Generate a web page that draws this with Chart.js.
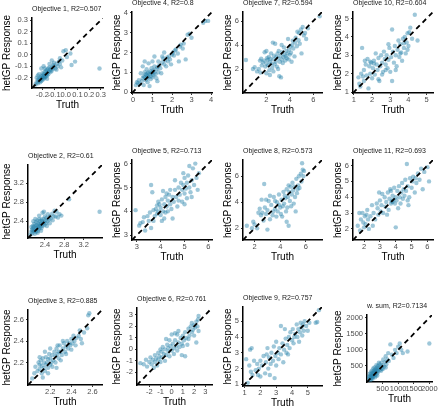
<!DOCTYPE html>
<html>
<head>
<meta charset="utf-8">
<script src="https://cdn.jsdelivr.net/npm/chart.js@4.4.1/dist/chart.umd.min.js"></script>
<style>
  html, body { margin: 0; padding: 0; background: #fff; }
  body { position: relative; width: 440px; height: 411px; overflow: hidden; }
  canvas { position: absolute; }
</style>
</head>
<body>
<script>
// values: [truth, hetGP response]
const obj1Points = [[-0.25,-0.24],[-0.24,-0.22],[-0.24,-0.25],[-0.23,-0.21],[-0.23,-0.23],[-0.22,-0.20],[-0.22,-0.24],[-0.22,-0.22],[-0.21,-0.19],[-0.21,-0.21],[-0.21,-0.23],[-0.20,-0.18],[-0.20,-0.20],[-0.20,-0.22],[-0.20,-0.16],[-0.19,-0.19],[-0.19,-0.21],[-0.19,-0.17],[-0.18,-0.15],[-0.18,-0.19],[-0.18,-0.20],[-0.17,-0.17],[-0.17,-0.14],[-0.17,-0.19],[-0.16,-0.16],[-0.16,-0.13],[-0.16,-0.18],[-0.15,-0.15],[-0.15,-0.12],[-0.15,-0.17],[-0.14,-0.14],[-0.14,-0.11],[-0.13,-0.13],[-0.13,-0.15],[-0.12,-0.11],[-0.12,-0.14],[-0.11,-0.09],[-0.11,-0.12],[-0.10,-0.10],[-0.10,-0.07],[-0.09,-0.12],[-0.08,-0.08],[-0.07,-0.10],[-0.06,-0.06],[-0.05,-0.08],[-0.05,-0.03],[-0.04,-0.11],[-0.03,-0.05],[-0.02,0.03],[0.00,0.04],[0.01,-0.02],[0.04,0.01],[0.05,-0.09],[0.08,-0.06],[0.29,-0.12],[-0.21,-0.12],[-0.19,-0.10],[-0.23,-0.17],[-0.18,-0.12],[-0.14,-0.08],[-0.12,-0.05],[-0.08,-0.13],[-0.16,-0.21],[-0.25,-0.20],[-0.26,-0.26],[-0.24,-0.18]];
const obj4Points = [[0.15,0.35],[0.2,0.5],[0.25,0.45],[0.3,0.6],[0.35,0.4],[0.4,0.95],[0.45,0.55],[0.5,0.7],[0.5,1.3],[0.55,0.8],[0.55,0.35],[0.6,0.75],[0.6,1.0],[0.65,0.9],[0.65,0.6],[0.7,0.85],[0.7,1.15],[0.7,0.7],[0.75,0.95],[0.75,0.8],[0.75,0.5],[0.8,1.0],[0.8,0.75],[0.8,1.45],[0.85,0.9],[0.85,0.3],[0.9,1.05],[0.9,0.8],[0.9,0.65],[0.95,1.2],[0.95,0.95],[1.0,1.0],[1.0,0.75],[1.0,1.55],[1.05,1.1],[1.05,0.85],[1.1,1.0],[1.1,1.3],[1.15,0.9],[1.2,1.15],[1.2,0.7],[1.25,1.25],[1.3,1.0],[1.3,1.55],[1.35,1.35],[1.4,1.2],[1.45,0.95],[1.5,1.5],[1.5,1.8],[1.55,1.7],[1.6,1.4],[1.65,1.6],[1.7,1.3],[1.75,1.75],[1.8,1.55],[1.85,1.8],[1.9,1.65],[1.95,1.4],[2.0,1.9],[2.05,2.0],[2.1,1.85],[2.15,2.1],[2.2,2.15],[2.3,1.95],[2.35,1.55],[2.4,2.3],[2.45,2.4],[2.55,2.2],[2.6,2.45],[2.7,1.65],[2.8,2.9],[2.9,2.95],[3.0,2.75],[3.6,3.5],[3.7,3.6],[3.85,3.6],[1.25,0.55],[0.6,1.55],[1.6,2.0],[1.1,1.8]];
const obj7Points = [[0.25,2.75],[0.85,2.0],[1.0,2.15],[1.2,1.8],[1.35,2.0],[1.45,2.7],[1.55,2.85],[1.6,2.3],[1.7,2.55],[1.8,2.7],[1.85,3.4],[1.9,2.2],[2.0,2.45],[2.0,1.65],[2.05,2.9],[2.1,2.75],[2.15,2.3],[2.2,3.0],[2.25,1.9],[2.3,1.5],[2.3,2.6],[2.35,2.85],[2.4,3.3],[2.45,2.45],[2.5,2.1],[2.55,4.2],[2.6,2.8],[2.6,1.8],[2.65,3.1],[2.7,2.4],[2.75,4.1],[2.8,2.6],[2.85,3.0],[2.9,2.2],[2.95,3.3],[3.0,2.9],[3.0,2.0],[3.05,3.5],[3.1,1.4],[3.15,2.6],[3.2,3.1],[3.25,1.3],[3.3,2.8],[3.35,3.4],[3.4,2.5],[3.45,3.0],[3.5,3.8],[3.55,3.2],[3.6,2.7],[3.65,3.05],[3.7,3.5],[3.75,2.9],[3.8,3.3],[3.85,4.5],[3.9,2.8],[3.95,3.6],[4.0,3.2],[4.05,3.9],[4.1,3.35],[4.15,2.6],[4.2,4.0],[4.25,4.35],[4.3,3.7],[4.4,3.05],[4.45,4.2],[4.5,4.6],[4.6,3.9],[4.65,5.1],[4.75,4.4],[4.8,5.0],[4.85,4.1],[4.95,5.3],[5.0,3.3],[5.1,5.5],[5.2,4.8],[5.3,5.0],[5.4,4.5],[5.55,5.4],[6.55,6.4],[3.3,4.0],[2.0,3.5],[1.5,1.7]];
const obj10Points = [[1.25,1.8],[1.3,1.45],[1.35,1.3],[1.4,2.0],[1.45,3.4],[1.5,1.85],[1.55,2.2],[1.6,2.7],[1.65,2.5],[1.7,1.9],[1.75,2.8],[1.8,1.2],[1.85,2.4],[1.9,2.0],[1.95,2.6],[2.0,1.75],[2.05,2.3],[2.1,2.55],[2.15,1.95],[2.2,3.1],[2.25,2.5],[2.3,2.2],[2.35,2.85],[2.4,1.6],[2.45,2.4],[2.5,3.0],[2.55,2.6],[2.6,2.1],[2.65,3.2],[2.7,2.8],[2.75,2.5],[2.8,3.0],[2.85,2.3],[2.9,2.75],[2.95,3.4],[3.0,2.1],[3.05,2.9],[3.1,1.6],[3.1,4.4],[3.15,3.2],[3.2,2.6],[3.25,3.5],[3.3,3.0],[3.35,2.4],[3.4,3.3],[3.45,3.8],[3.5,2.9],[3.55,3.6],[3.6,3.15],[3.65,2.7],[3.7,3.9],[3.75,3.4],[3.8,4.0],[3.85,3.1],[3.9,3.7],[3.95,4.2],[4.0,3.5],[4.05,4.25],[4.1,4.5],[4.2,3.9],[4.35,5.2],[4.5,3.8],[1.9,2.65],[2.1,2.7],[2.35,1.7],[2.55,1.95],[2.9,3.6],[3.3,2.2],[3.55,3.1],[1.55,1.6],[2.75,2.2],[3.95,3.3],[3.75,3.65]];
const obj2Points = [[2.10,2.12],[2.12,2.18],[2.13,2.22],[2.14,2.15],[2.15,2.25],[2.15,2.3],[2.16,2.19],[2.17,2.28],[2.18,2.22],[2.18,2.35],[2.19,2.14],[2.2,2.2],[2.2,2.3],[2.21,2.26],[2.22,2.38],[2.22,2.18],[2.23,2.32],[2.24,2.24],[2.24,2.42],[2.25,2.28],[2.26,2.2],[2.26,2.36],[2.27,2.3],[2.28,2.25],[2.28,2.45],[2.29,2.34],[2.3,2.4],[2.3,2.28],[2.31,2.32],[2.32,2.36],[2.33,2.26],[2.33,2.44],[2.34,2.4],[2.35,2.3],[2.36,2.35],[2.37,2.45],[2.38,2.38],[2.39,2.32],[2.4,2.5],[2.41,2.42],[2.42,2.36],[2.43,2.47],[2.45,2.4],[2.46,2.55],[2.48,2.44],[2.5,2.5],[2.52,2.46],[2.55,2.56],[2.58,2.5],[2.6,2.62],[2.62,2.5],[2.64,2.6],[2.67,2.48],[2.7,2.55],[2.74,2.52],[2.9,2.86],[3.53,2.6],[2.16,2.4],[2.2,2.45],[2.28,2.52],[2.35,2.58],[2.12,2.28],[2.25,2.16],[2.32,2.2],[2.44,2.3],[2.5,2.36],[2.38,2.6],[2.56,2.42]];
const obj5Points = [[2.95,4.05],[3.1,3.4],[3.15,3.5],[3.25,3.55],[3.35,3.2],[3.45,3.8],[3.5,3.6],[3.55,3.95],[3.6,3.3],[3.6,5.1],[3.65,4.8],[3.7,4.05],[3.75,3.8],[3.8,4.1],[3.85,3.9],[3.9,4.0],[3.95,4.3],[4.0,3.85],[4.0,4.15],[4.05,4.5],[4.1,4.0],[4.1,4.85],[4.15,4.3],[4.2,4.6],[4.2,3.95],[4.25,4.2],[4.3,4.45],[4.3,4.0],[4.35,4.7],[4.4,4.3],[4.45,4.1],[4.5,4.6],[4.5,3.7],[4.55,4.4],[4.6,4.9],[4.65,4.6],[4.7,4.2],[4.75,5.0],[4.8,4.7],[4.85,5.2],[4.9,4.9],[4.9,4.4],[4.95,5.1],[5.0,4.75],[5.0,5.4],[5.05,4.95],[5.1,5.2],[5.1,4.55],[5.15,5.5],[5.2,5.0],[5.25,4.8],[5.3,5.3],[5.3,4.6],[5.35,5.8],[5.4,5.1],[5.45,6.0],[5.5,5.4],[5.55,4.9],[5.6,5.6],[5.2,5.9],[4.95,5.6],[4.6,5.3],[3.9,4.4],[4.05,3.6],[3.7,3.6],[3.3,3.75],[4.4,4.9],[4.75,4.45],[5.0,4.3],[4.25,4.75],[3.85,4.25],[4.15,3.7]];
const obj8Points = [[1.4,2.2],[1.8,2.0],[1.9,2.5],[2.0,2.3],[2.2,2.0],[2.3,3.2],[2.4,3.5],[2.5,3.0],[2.6,3.2],[2.7,2.6],[2.75,5.4],[2.8,3.6],[2.9,3.1],[3.0,1.9],[3.0,3.4],[3.1,4.1],[3.2,2.7],[3.3,3.8],[3.4,3.0],[3.5,4.4],[3.6,3.5],[3.7,2.9],[3.75,4.0],[3.8,3.3],[3.9,4.6],[4.0,3.6],[4.05,3.1],[4.1,4.2],[4.2,3.7],[4.25,4.8],[4.3,3.9],[4.4,4.3],[4.5,2.5],[4.5,5.0],[4.55,3.6],[4.6,4.4],[4.65,2.2],[4.7,4.8],[4.75,4.1],[4.8,5.2],[4.85,3.7],[4.9,4.6],[4.95,5.5],[5.0,4.9],[5.05,3.9],[5.1,5.2],[5.15,4.4],[5.2,3.3],[5.25,5.8],[5.3,4.7],[5.4,5.3],[5.45,6.0],[5.5,5.1],[5.6,6.2],[5.65,5.6],[5.7,7.0],[5.75,6.5],[5.8,6.0],[5.85,6.4],[3.2,4.5],[3.6,4.1],[4.35,4.5],[2.9,4.2],[3.45,3.3],[4.15,2.9],[4.65,5.3],[5.35,5.0],[3.9,3.8],[2.55,4.2],[4.45,3.3]];
const obj11Points = [[1.6,2.2],[1.7,3.0],[1.75,1.9],[1.8,2.6],[1.9,3.0],[1.95,2.4],[2.0,2.1],[2.05,2.8],[2.1,2.3],[2.2,3.2],[2.25,2.6],[2.3,2.0],[2.4,2.8],[2.5,3.5],[2.55,2.2],[2.6,3.0],[2.7,2.6],[2.8,3.6],[2.85,3.3],[2.9,2.9],[3.0,3.8],[3.05,3.1],[3.1,3.5],[3.15,4.2],[3.2,3.0],[3.3,4.0],[3.35,3.4],[3.4,3.7],[3.5,4.3],[3.55,3.2],[3.6,3.9],[3.65,4.5],[3.7,3.6],[3.75,3.75],[3.8,4.1],[3.8,3.7],[3.85,3.85],[3.9,4.6],[3.95,3.6],[4.0,2.1],[4.0,4.0],[4.05,3.8],[4.1,4.4],[4.15,3.3],[4.2,4.7],[4.25,4.0],[4.3,3.6],[4.35,4.3],[4.4,4.9],[4.45,3.9],[4.5,4.5],[4.55,4.1],[4.6,5.1],[4.65,4.4],[4.7,6.1],[4.75,4.7],[4.8,3.5],[4.85,4.0],[4.9,5.2],[5.0,4.6],[5.05,5.0],[5.1,5.3],[5.2,4.3],[5.3,4.9],[5.4,5.5],[5.5,5.1],[5.6,5.8],[5.7,4.5],[5.8,5.6],[6.0,5.9],[6.1,5.0],[2.15,2.9],[3.45,2.9],[2.95,4.3],[4.75,3.8],[5.25,5.2],[3.7,4.4]];
const obj3Points = [[2.03,2.05],[2.05,2.1],[2.06,2.16],[2.08,2.12],[2.09,2.2],[2.1,2.14],[2.1,2.18],[2.11,2.22],[2.12,2.1],[2.12,2.17],[2.13,2.24],[2.14,2.15],[2.14,2.2],[2.15,2.12],[2.16,2.18],[2.16,2.25],[2.17,2.2],[2.18,2.15],[2.18,2.23],[2.19,2.28],[2.2,2.18],[2.2,2.24],[2.21,2.2],[2.22,2.27],[2.22,2.16],[2.23,2.22],[2.24,2.3],[2.25,2.26],[2.25,2.2],[2.26,2.33],[2.27,2.28],[2.28,2.24],[2.28,2.3],[2.29,2.36],[2.3,2.3],[2.31,2.27],[2.32,2.33],[2.33,2.38],[2.34,2.3],[2.35,2.35],[2.36,2.4],[2.37,2.33],[2.38,2.38],[2.39,2.36],[2.4,2.42],[2.41,2.38],[2.42,2.45],[2.43,2.4],[2.44,2.36],[2.45,2.43],[2.47,2.45],[2.49,2.42],[2.5,2.38],[2.52,2.48],[2.55,2.52],[2.56,2.64],[2.57,2.66],[2.48,2.5],[2.15,2.3],[2.2,2.33],[2.1,2.25],[2.3,2.22],[2.35,2.28],[2.26,2.15],[2.4,2.32],[2.18,2.1],[2.13,2.06],[2.32,2.4],[2.27,2.36]];
const obj6Points = [[-2.5,-1.3],[-2.3,-0.9],[-2.2,-1.5],[-2.0,-1.1],[-1.9,-0.7],[-1.8,-1.3],[-1.7,-0.9],[-1.6,-1.6],[-1.5,-0.5],[-1.5,-1.1],[-1.4,-0.8],[-1.3,-1.4],[-1.2,-0.3],[-1.2,-0.9],[-1.1,-0.6],[-1.0,-1.1],[-0.9,-0.2],[-0.9,-0.7],[-0.8,0.2],[-0.7,-0.4],[-0.6,-1.0],[-0.6,0.0],[-0.5,-0.5],[-0.4,0.4],[-0.3,-0.2],[-0.3,0.1],[-0.2,-0.6],[-0.1,0.3],[0.0,-0.1],[0.0,1.3],[0.1,0.5],[0.2,0.1],[0.2,-0.4],[0.3,0.8],[0.4,0.3],[0.5,1.3],[0.5,-0.1],[0.6,0.6],[0.7,0.2],[0.8,1.0],[0.9,-0.5],[0.9,0.5],[1.0,1.2],[1.1,0.8],[1.2,-0.6],[1.2,1.5],[1.3,1.0],[1.4,0.4],[1.5,1.8],[1.6,1.2],[1.7,2.0],[1.8,1.5],[1.8,2.3],[1.9,1.7],[2.0,2.1],[2.0,1.2],[2.1,1.9],[2.2,2.4],[2.2,0.6],[2.3,2.0],[2.35,2.6],[2.4,1.6],[2.4,2.9],[-0.5,0.9],[0.3,1.4],[-1.0,0.0],[-2.8,-1.2],[1.0,0.3],[0.6,1.6],[-0.2,0.8],[1.5,0.9]];
const obj9Points = [[1.1,2.6],[1.2,1.1],[1.3,2.2],[1.35,3.2],[1.4,1.8],[1.45,3.3],[1.5,1.6],[1.6,2.5],[1.7,1.9],[1.8,2.3],[1.9,2.0],[2.0,1.5],[2.0,2.5],[2.1,2.2],[2.2,2.8],[2.3,1.7],[2.35,2.4],[2.4,2.9],[2.5,2.0],[2.55,2.7],[2.6,1.6],[2.7,3.0],[2.8,2.5],[2.85,3.4],[2.9,1.4],[2.95,2.8],[3.0,3.7],[3.0,2.2],[3.1,3.0],[3.15,2.6],[3.2,3.3],[3.3,4.7],[3.3,2.9],[3.4,3.6],[3.45,2.4],[3.5,3.2],[3.6,3.9],[3.65,3.0],[3.7,3.5],[3.8,4.0],[3.85,3.3],[3.9,4.3],[4.0,3.8],[4.05,4.5],[4.1,3.6],[4.2,4.2],[4.3,4.8],[4.35,4.0],[4.4,4.5],[4.5,4.3],[4.55,4.9],[4.6,4.6],[4.65,4.1],[4.7,4.8],[4.75,4.4],[4.8,5.0],[4.9,4.7],[5.0,4.4],[5.1,4.9],[5.5,4.9],[5.6,4.95],[5.7,5.7],[2.45,3.3],[3.75,2.9],[2.65,2.3],[1.85,1.6],[4.15,4.0],[3.55,4.5],[4.45,3.7]];
const wsumPoints = [[60,80],[80,150],[100,120],[110,60],[120,200],[130,170],[140,110],[150,250],[160,190],[170,140],[180,300],[190,230],[200,170],[210,280],[220,350],[230,210],[240,300],[250,250],[260,380],[270,320],[280,200],[290,400],[300,300],[310,350],[320,450],[330,270],[340,380],[350,500],[360,330],[380,430],[400,550],[420,380],[440,480],[460,600],[480,420],[500,520],[520,700],[550,480],[580,620],[600,800],[620,550],[650,700],[680,900],[700,650],[750,1170],[800,850],[850,750],[900,1000],[950,900],[1000,1100],[1050,1200],[1100,1000],[1150,900],[1300,950],[2000,1200],[90,250],[150,350],[200,420],[260,150],[330,200],[380,600],[450,350],[120,300],[70,180],[180,100],[240,450],[300,520],[500,400],[600,450]];

// axis limits (same for truth and response) and tick values
const obj1Range = [-0.29, 0.32],  obj1Ticks = [-0.2, -0.1, 0, 0.1, 0.2, 0.3];
const obj4Range = [-0.05, 4.05],  obj4Ticks = [0, 1, 2, 3, 4];
const obj7Range = [0, 6.75],      obj7Ticks = [2, 4, 6];
const obj10Range = [0.95, 5.35],  obj10Ticks = [1, 2, 3, 4, 5];
const obj2Range = [2.05, 3.58],   obj2Ticks = [2.4, 2.8, 3.2];
const obj5Range = [2.8, 6.15],    obj5Ticks = [3, 4, 5, 6];
const obj8Range = [1.1, 7.25],    obj8Ticks = [2, 4, 6];
const obj11Range = [1.3, 6.35],   obj11Ticks = [2, 3, 4, 5, 6];
const obj3Range = [1.99, 2.69],   obj3Ticks = [2.2, 2.4, 2.6];
const obj6Range = [-3.1, 3.6],    obj6Ticks = [-2, -1, 0, 1, 2, 3];
const obj9Range = [0.9, 5.9],     obj9Ticks = [1, 2, 3, 4, 5];
const wsumRange = [0, 2085],      wsumTicks = [500, 1000, 1500, 2000];

const panels = [
  { title: 'Objective 1, R2=0.507',  pts: obj1Points,  range: obj1Range,  ticks: obj1Ticks,  dp: 1 },
  { title: 'Objective 4, R2=0.8',    pts: obj4Points,  range: obj4Range,  ticks: obj4Ticks,  dp: 0 },
  { title: 'Objective 7, R2=0.594',  pts: obj7Points,  range: obj7Range,  ticks: obj7Ticks,  dp: 0 },
  { title: 'Objective 10, R2=0.604', pts: obj10Points, range: obj10Range, ticks: obj10Ticks, dp: 0 },
  { title: 'Objective 2, R2=0.61',   pts: obj2Points,  range: obj2Range,  ticks: obj2Ticks,  dp: 1 },
  { title: 'Objective 5, R2=0.713',  pts: obj5Points,  range: obj5Range,  ticks: obj5Ticks,  dp: 0 },
  { title: 'Objective 8, R2=0.573',  pts: obj8Points,  range: obj8Range,  ticks: obj8Ticks,  dp: 0 },
  { title: 'Objective 11, R2=0.693', pts: obj11Points, range: obj11Range, ticks: obj11Ticks, dp: 0 },
  { title: 'Objective 3, R2=0.885',  pts: obj3Points,  range: obj3Range,  ticks: obj3Ticks,  dp: 1 },
  { title: 'Objective 6, R2=0.761',  pts: obj6Points,  range: obj6Range,  ticks: obj6Ticks,  dp: 0 },
  { title: 'Objective 9, R2=0.757',  pts: obj9Points,  range: obj9Range,  ticks: obj9Ticks,  dp: 0 },
  { title: 'w. sum, R2=0.7134',      pts: wsumPoints,  range: wsumRange,  ticks: wsumTicks,  dp: 0 }
];

// plot area of each panel on the page: left, top, right, bottom
const plotBoxes = [
  [32, 18, 103, 88], [132, 12, 212, 93], [243, 12, 322, 93], [353, 12, 433, 93],
  [28, 165, 102, 238], [132, 160, 212, 240], [243, 160, 322, 240], [353, 160, 433, 240],
  [28, 310, 102, 385], [137, 308, 212, 385], [243, 307, 322, 386], [367, 315, 432, 382]
];
const yLabelX = [7, 117, 228, 338];

Chart.defaults.font.family = '"Liberation Sans", Arial, sans-serif';
const TITLE_H = 12, XAXIS_H = 24, RIGHT_PAD = 8;

panels.forEach((p, i) => {
  const [L, T, R, B] = plotBoxes[i];
  const cx = yLabelX[i % 4] - 5;
  const cy = T - TITLE_H;
  const cv = document.createElement('canvas');
  cv.width = R - cx + RIGHT_PAD;
  cv.height = B - cy + XAXIS_H;
  cv.style.left = cx + 'px';
  cv.style.top = cy + 'px';
  document.body.appendChild(cv);

  const [lo, hi] = p.range;
  const axisCommon = {
    type: 'linear', min: lo, max: hi,
    afterBuildTicks: s => { s.ticks = p.ticks.map(v => ({ value: v })); },
    grid: { drawOnChartArea: false, drawTicks: true, tickLength: 2, color: '#333' },
    border: { display: true, color: '#000', width: 1.5 },
    ticks: {
      autoSkip: false, maxRotation: 0, color: '#4d4d4d',
      font: { size: 7.5 },
      callback: v => Number(v).toFixed(p.dp)
    }
  };

  new Chart(cv, {
    type: 'scatter',
    data: {
      datasets: [
        {
          type: 'line', data: [{ x: lo, y: lo }, { x: hi, y: hi }],
          borderColor: '#000', borderWidth: 1.8, borderDash: [5, 4],
          pointRadius: 0, fill: false
        },
        {
          data: p.pts.map(d => ({ x: d[0], y: d[1] })),
          backgroundColor: 'rgba(40,130,170,0.45)', borderWidth: 0, pointRadius: 2.2
        }
      ]
    },
    options: {
      responsive: false, animation: false, devicePixelRatio: 1,
      layout: { padding: { left: 0, top: 0, right: RIGHT_PAD, bottom: 0 } },
      plugins: {
        legend: { display: false },
        tooltip: { enabled: false },
        title: {
          display: true, text: p.title, align: 'start', fullSize: false,
          color: '#1a1a1a', font: { size: 7, weight: 'normal', lineHeight: 1 },
          padding: { top: 0, bottom: 5 }
        }
      },
      scales: {
        x: Object.assign({}, axisCommon, {
          afterFit: s => { s.height = XAXIS_H; s.paddingLeft = 0; s.paddingRight = 0; },
          ticks: Object.assign({}, axisCommon.ticks, { padding: 0.5 }),
          title: { display: true, text: 'Truth', color: '#000', font: { size: 10, lineHeight: 1 }, padding: { top: 0, bottom: 1.5 } }
        }),
        y: Object.assign({}, axisCommon, {
          afterFit: s => { s.width = L - cx; s.paddingTop = 0; s.paddingBottom = 0; },
          ticks: Object.assign({}, axisCommon.ticks, { padding: 2 }),
          title: { display: true, text: 'hetGP Response', color: '#000', font: { size: 10, lineHeight: 1 }, padding: { top: 0, bottom: 0 } }
        })
      }
    }
  });
});
</script>
</body>
</html>
